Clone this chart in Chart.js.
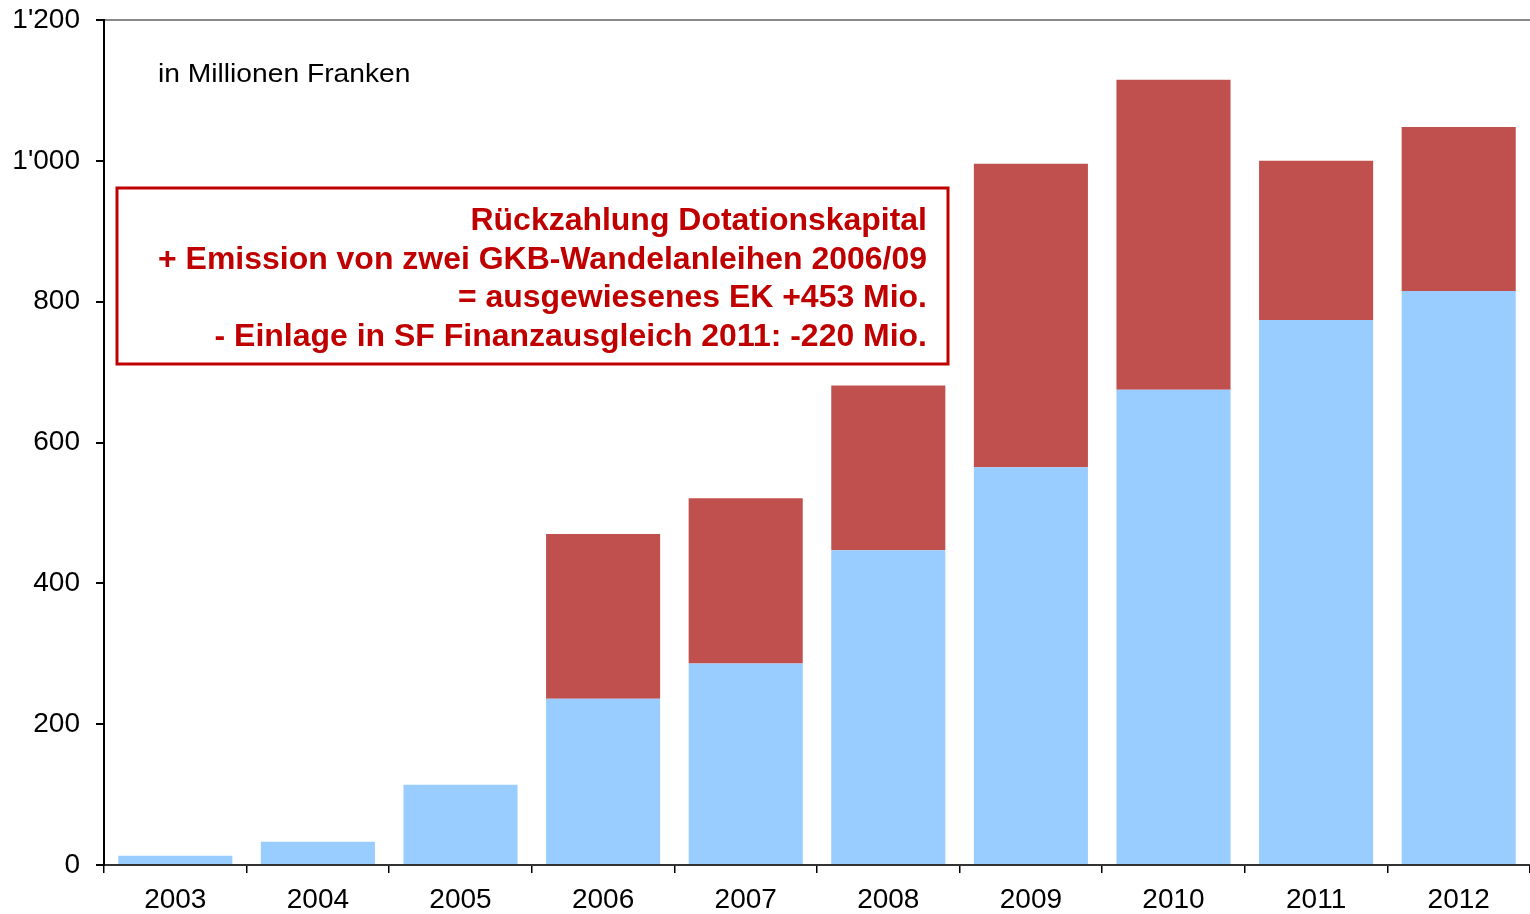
<!DOCTYPE html>
<html>
<head>
<meta charset="utf-8">
<script src="https://cdn.jsdelivr.net/npm/chart.js@4.4.0/dist/chart.umd.min.js"></script>
<style>
html,body{margin:0;padding:0;background:#fff;}
#wrap{width:1530px;height:914px;}
</style>
</head>
<body>
<div id="wrap"><canvas id="c" width="1530" height="914"></canvas></div>
<script>
const categories = ['2003','2004','2005','2006','2007','2008','2009','2010','2011','2012'];
const baseValues = [13, 33, 114, 236, 286, 447, 565, 675, 774, 815];
const capitalValues = [0, 0, 0, 234, 235, 234, 431, 440, 226, 233];
const yTicks = [0, 200, 400, 600, 800, 1000, 1200];
const unitNote = 'in Millionen Franken';
const boxLines = [
  'Rückzahlung Dotationskapital',
  '+ Emission von zwei GKB-Wandelanleihen 2006/09',
  '= ausgewiesenes EK +453 Mio.',
  '- Einlage in SF Finanzausgleich 2011: -220 Mio.'
];

const FONT = '"Liberation Sans", Arial, sans-serif';

function fmt(v){
  return String(v).replace(/\B(?=(\d{3})+(?!\d))/g, "'");
}

const annot = {
  id: 'annot',
  afterDraw(chart){
    const ctx = chart.ctx;
    const a = chart.chartArea;
    ctx.save();
    ctx.fillStyle = '#000';
    ctx.font = '26px ' + FONT;
    ctx.textBaseline = 'alphabetic';
    ctx.textAlign = 'left';
    ctx.save();
    ctx.translate(a.left + 54, 82);
    ctx.scale(1.085, 1);
    ctx.fillText(unitNote, 0, 0);
    ctx.restore();
    ctx.fillStyle = '#fff';
    ctx.fillRect(a.left + 13, 188, 831, 176);
    ctx.strokeStyle = '#C00000';
    ctx.lineWidth = 3;
    ctx.strokeRect(a.left + 13, 188, 831, 176);
    ctx.fillStyle = '#C00000';
    ctx.font = 'bold 31px ' + FONT;
    let maxW = 0;
    boxLines.forEach(l => { maxW = Math.max(maxW, ctx.measureText(l).width); });
    const sx = 769 / maxW;
    const rightX = a.left + 823;
    boxLines.forEach((l, i) => {
      ctx.save();
      ctx.translate(rightX, 230 + i * 38.5);
      ctx.scale(sx, 1);
      ctx.textAlign = 'right';
      ctx.fillText(l, 0, 0);
      ctx.restore();
    });
    ctx.restore();
  }
};

new Chart(document.getElementById('c'), {
  type: 'bar',
  data: {
    labels: categories,
    datasets: [
      { label: 'Basis', data: baseValues, backgroundColor: '#99CCFF', borderWidth: 0 },
      { label: 'Dotationskapital', data: capitalValues, backgroundColor: '#C0504D', borderWidth: 0 }
    ]
  },
  options: {
    responsive: false,
    devicePixelRatio: 1,
    animation: false,
    layout: { padding: { top: 20, left: 0, right: 0, bottom: 0 } },
    plugins: { legend: { display: false }, tooltip: { enabled: false } },
    datasets: { bar: { categoryPercentage: 0.8, barPercentage: 1.0 } },
    scales: {
      x: {
        stacked: true,
        offset: true,
        grid: { display: true, drawOnChartArea: false, offset: true, tickLength: 8, tickColor: '#000', lineWidth: 1.5 },
        border: { display: true, color: '#333', width: 2 },
        ticks: { color: '#000', font: { family: FONT, size: 28 }, padding: 10, maxRotation: 0, autoSkip: false },
        afterFit(s){ s.height = 49; s.paddingLeft = 0; s.paddingRight = 0; }
      },
      y: {
        stacked: true,
        min: 0,
        max: 1200,
        afterBuildTicks(s){ s.ticks = yTicks.map(v => ({ value: v })); },
        grid: {
          display: true,
          drawOnChartArea: true,
          tickLength: 8,
          tickColor: '#000',
          lineWidth: 2,
          color: c => (c.tick && c.tick.value === 1200) ? '#888' : 'rgba(0,0,0,0)'
        },
        border: { display: true, color: '#000', width: 2 },
        ticks: { color: '#000', font: { family: FONT, size: 28 }, padding: 16, callback: v => fmt(v) },
        afterFit(s){ s.width = 104; s.paddingTop = 0; s.paddingBottom = 0; }
      }
    }
  },
  plugins: [annot]
});
</script>
</body>
</html>
